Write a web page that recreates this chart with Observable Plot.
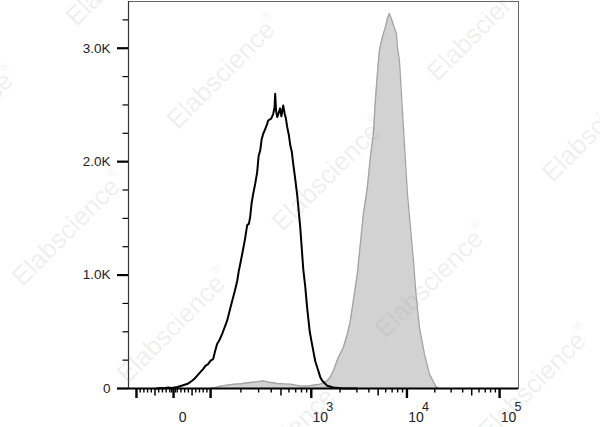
<!DOCTYPE html>
<html><head><meta charset="utf-8">
<script src="https://cdn.jsdelivr.net/npm/d3@7"></script>
<script src="https://cdn.jsdelivr.net/npm/@observablehq/plot@0.6"></script>
<style>
html,body{margin:0;padding:0;background:#fff;}
#chart{position:relative;width:600px;height:427px;overflow:hidden;}
#wm{position:absolute;left:0;top:0;pointer-events:none;}
</style></head><body>
<div id="chart"></div>
<script>
// ---- data: control (black outline histogram) ----
const controlIntensity = [-45,-35,-25,-15,-5,3,9.5,17.6,25.7,36.5,43,50,57,63.5,71,79.7,86,93.2,100,106,111,116,123,130,138,146,155,164,174,184,190,197,206,218,231,240,247,256,265,278,290,300,311,322,333,350,365,373,400,419,432,438,447,459,475,490,505,526,545,560,577,600,620,640,662,690,726,777,833,871,913,966,1024,1101,1156,1242,1304,1470,1700,2163,3000];
const controlCount     = [0,5,3,8,5,10,14,20,28,39,52,68,88,112,140,171,200,215,245,259,330,392,430,480,540,598,690,774,860,950,1030,1098,1186,1300,1440,1451,1509,1640,1716,1810,1906,2050,2098,2200,2245,2290,2333,2363,2380,2422,2480,2598,2450,2393,2430,2470,2400,2495,2420,2380,2304,2230,2140,2090,1980,1860,1700,1421,1050,900,700,500,380,240,185,100,68,24,9,0,0];
// ---- data: stained (grey filled histogram) ----
const stainedIntensity = [100,110,125,150,175,200,247,290,333,380,459,540,618,700,777,870,966,1100,1242,1350,1470,1600,1700,1918,2163,2382,2561,2754,3031,3260,3504,3858,4148,4459,4679,4911,5153,5540,5956,6249,6557,6880,7222,7765,7954,8349,8758,9192,9645,10125,10910,11757,12511,13650,15461,17510,20332,21903];
const stainedCount     = [0,8,20,32,39,42,53,60,68,55,44,40,39,30,24,20,25,32,39,52,68,110,156,274,362,480,598,774,1010,1274,1539,1774,2039,2245,2539,2774,2980,3098,3186,3260,3307,3260,3207,3127,3010,2892,2598,2304,2010,1716,1421,1127,833,539,303,127,24,0];

// ---- axis ticks / labels ----
const yMajorTicks = [0, 1000, 2000, 3000];
const yTickLabels = ["0", "1.0K", "2.0K", "3.0K"];
const yMinorTicks = [250, 500, 750, 1250, 1500, 1750, 2250, 2500, 2750, 3250];
const xMajorTicks = [-100, 0, 100, 1000, 10000, 100000];
const xMidTicks = [-50, 50, 500, 5000, 50000];
const xMinorTicks = [-90,-80,-70,-60,-40,-30,-20,-10,-5,5,10,20,30,40,60,70,80,90,
  200,300,400,600,700,800,900,2000,3000,4000,6000,7000,8000,9000,
  20000,30000,40000,60000,70000,80000,90000];
const xLabelValues = [0, 1000, 10000, 100000];
const xLabelBase = ["0", "10", "10", "10"];
const xLabelExp = ["", "3", "4", "5"];
const xDomain = [-120, 160000];
const yDomain = [0, 3412];

// biexponential-like display transform (linear near 0, log beyond)
function biex(v) {
  const a = Math.abs(v), s = Math.sign(v);
  let o;
  if (a <= 100) o = a * 0.37;
  else if (a <= 1000) o = 37 + 100.5 * Math.log10(a / 100);
  else if (a <= 10000) o = 137.5 + 95.5 * Math.log10(a / 1000);
  else o = 233 + 92.5 * Math.log10(a / 10000);
  return s * o;
}

const control = controlIntensity.map((v, i) => ({v, c: controlCount[i]}));
const stained = stainedIntensity.map((v, i) => ({v, c: stainedCount[i]}));
const font = "'Liberation Sans', Arial, sans-serif";
const labelIdx = d3.range(xLabelValues.length);
const expIdx = labelIdx.filter(i => xLabelExp[i]);

const chart = Plot.plot({
  width: 600,
  height: 427,
  marginLeft: 128,
  marginRight: 82,
  marginTop: 1,
  marginBottom: 39,
  style: {fontFamily: font, background: "transparent", overflow: "visible"},
  x: {type: "linear", transform: biex, domain: xDomain.map(biex), axis: null},
  y: {domain: yDomain, axis: null},
  marks: [
    Plot.areaY(stained, {x: "v", y: "c", fill: "#d2d2d2"}),
    Plot.lineY(stained, {x: "v", y: "c", stroke: "#a3a3a3", strokeWidth: 1.3}),
    Plot.lineY(control, {x: "v", y: "c", stroke: "#000", strokeWidth: 2}),
    Plot.frame({stroke: "#666", strokeWidth: 1}),
    Plot.ruleY([0], {stroke: "#000", strokeWidth: 2}),
    Plot.ruleX([xDomain[0]], {stroke: "#333", strokeWidth: 1.2}),
    Plot.axisY(yMajorTicks, {tickSize: 11, strokeWidth: 2.2, tickPadding: 7, fontSize: 13.5, fill: "#222",
      tickFormat: d => yTickLabels[yMajorTicks.indexOf(d)], label: null}),
    Plot.axisY(yMinorTicks, {tickSize: 5.5, strokeWidth: 1.2, tickFormat: () => "", label: null}),
    Plot.axisX(xMajorTicks, {tickSize: 10, strokeWidth: 2.4, tickFormat: () => "", label: null}),
    Plot.axisX(xMidTicks, {tickSize: 7.5, strokeWidth: 1.5, tickFormat: () => "", label: null}),
    Plot.axisX(xMinorTicks, {tickSize: 4.5, strokeWidth: 1.4, tickFormat: () => "", label: null}),
    Plot.text(labelIdx, {x: i => xLabelValues[i], text: i => xLabelBase[i], frameAnchor: "bottom",
      dy: 33, dx: 9, fontSize: 14, fill: "#222"}),
    Plot.text(expIdx, {x: i => xLabelValues[i], text: i => xLabelExp[i], frameAnchor: "bottom",
      dy: 22, dx: 18.5, fontSize: 12.5, fill: "#222"})
  ]
});
document.getElementById("chart").appendChild(chart);

// watermark overlay
const wmCenters = [[225,73],[70,230],[175,327],[330,175],[433,282],[485,25],[600,126],[-37,124],[124,-30],[285,440],[536,384]];
const ns = "http://www.w3.org/2000/svg";
const wm = document.createElementNS(ns, "svg");
wm.setAttribute("id", "wm"); wm.setAttribute("width", 600); wm.setAttribute("height", 427);
for (const [cx, cy] of wmCenters) {
  const t = document.createElementNS(ns, "text");
  t.setAttribute("transform", `translate(${cx},${cy}) rotate(-45)`);
  t.setAttribute("text-anchor", "middle");
  t.setAttribute("dominant-baseline", "middle");
  t.setAttribute("font-family", font);
  t.setAttribute("font-size", 26);
  t.setAttribute("fill", "#9a9a9a");
  t.setAttribute("fill-opacity", 0.16);
  t.textContent = "Elabscience";
  const r = document.createElementNS(ns, "tspan");
  r.setAttribute("font-size", 11);
  r.setAttribute("dy", -11);
  r.textContent = "®";
  t.appendChild(r);
  wm.appendChild(t);
}
document.getElementById("chart").appendChild(wm);
</script>
</body></html>
